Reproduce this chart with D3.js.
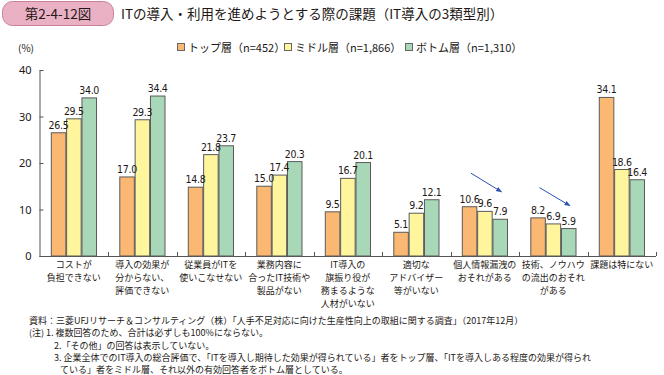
<!DOCTYPE html>
<html>
<head>
<meta charset="utf-8">
<script src="https://cdn.jsdelivr.net/npm/d3@7"></script>
<style>
  body { margin: 0; background: #fff; }
  text { font-family: "Noto Sans CJK JP", "Noto Sans", sans-serif; fill: #231815; }
  .num { font-family: "Liberation Sans Narrow", "DejaVu Sans Condensed", "Noto Sans", sans-serif; font-stretch: condensed; }
</style>
</head>
<body>
<script>
// data
var categories = ["cost", "effect", "staff", "fit", "leader", "advisor", "privacy", "knowhow", "none"];
var catLabels = [
  ["コストが", "負担できない"],
  ["導入の効果が", "分からない、", "評価できない"],
  ["従業員がITを", "使いこなせない"],
  ["業務内容に", "合ったIT技術や", "製品がない"],
  ["IT導入の", "旗振り役が", "務まるような", "人材がいない"],
  ["適切な", "アドバイザー", "等がいない"],
  ["個人情報漏洩の", "おそれがある"],
  ["技術、ノウハウ", "の流出のおそれ", "がある"],
  ["課題は特にない"]
];
var seriesNames = ["トップ層（n=452）", "ミドル層（n=1,866）", "ボトム層（n=1,310）"];
var topVals    = [26.5, 17.0, 14.8, 15.0, 9.5, 5.1, 10.6, 8.2, 34.1];
var middleVals = [29.5, 29.3, 21.8, 17.4, 16.7, 9.2, 9.6, 6.9, 18.6];
var bottomVals = [34.0, 34.4, 23.7, 20.3, 20.1, 12.1, 7.9, 5.9, 16.4];
var yTicks = [0, 10, 20, 30, 40];
var colors = ["#fbb872", "#fff59c", "#a9d8b8"];
// annotation arrows (category, from value, to value)
var arrowCats = ["privacy", "knowhow"];
var arrowFrom = [17.8, 14.7];
var arrowTo = [13.8, 10.8];
var footnotes = [
  "資料：三菱UFJリサーチ＆コンサルティング（株）「人手不足対応に向けた生産性向上の取組に関する調査」（2017年12月）",
  "(注) 1. 複数回答のため、合計は必ずしも100%にならない。",
  "2.「その他」の回答は表示していない。",
  "3. 企業全体でのIT導入の総合評価で、「ITを導入し期待した効果が得られている」者をトップ層、「ITを導入しある程度の効果が得られ",
  "ている」者をミドル層、それ以外の有効回答者をボトム層としている。"
];

var W = 664, H = 375;
var svg = d3.select("body").append("svg").attr("width", W).attr("height", H);

// title
svg.append("rect").attr("x", 2.5).attr("y", 1.5).attr("width", 111).attr("height", 24)
  .attr("rx", 10).attr("fill", "#eab1c5").attr("stroke", "#c9809b");
svg.append("text").attr("x", 58).attr("y", 18.5).attr("text-anchor", "middle")
  .style("font-size", "13.5px").text("第2-4-12図");
svg.append("text").attr("x", 121).attr("y", 18.5)
  .style("font-size", "13.5px").text("ITの導入・利用を進めようとする際の課題（IT導入の3類型別）");

// scales
var x0 = d3.scaleBand().domain(categories).range([39.5, 656]);
var x1 = d3.scaleBand().domain(d3.range(3)).range([11.3, 57.3]);
var y = d3.scaleLinear().domain([0, 40]).range([256, 70]);

// y axis
var yAxis = svg.append("g").attr("transform", "translate(39.5,0)")
  .call(d3.axisLeft(y).tickValues(yTicks).tickSize(-4).tickPadding(8).tickSizeOuter(0));
yAxis.select(".domain").attr("stroke", "#555");
yAxis.selectAll(".tick line").attr("stroke", "#555");
yAxis.selectAll("text").style("font-size", "11px").style("font-family", "'Noto Sans', sans-serif").attr("fill", "#333");
svg.append("text").attr("x", 18).attr("y", 52).style("font-size", "10px").text("(%)");

// x axis line with ticks at band boundaries
svg.append("line").attr("x1", 39.5).attr("x2", 656).attr("y1", 256.5).attr("y2", 256.5).attr("stroke", "#555");
svg.selectAll(".xtick").data(categories.slice(1).concat(["end"])).enter().append("line")
  .attr("x1", function(d, i) { return Math.round(x0.range()[0] + (i + 1) * x0.bandwidth()) + 0.5; })
  .attr("x2", function(d, i) { return Math.round(x0.range()[0] + (i + 1) * x0.bandwidth()) + 0.5; })
  .attr("y1", 256).attr("y2", 252).attr("stroke", "#555");

// bars
var rows = categories.map(function(c, i) {
  return {cat: c, vals: [topVals[i], middleVals[i], bottomVals[i]]};
});
var groups = svg.selectAll(".grp").data(rows).enter().append("g")
  .attr("transform", function(d) { return "translate(" + x0(d.cat) + ",0)"; });
groups.selectAll("rect").data(function(d) { return d.vals; }).enter().append("rect")
  .attr("x", function(d, i) { return x1(i) + 0.5; })
  .attr("y", function(d) { return y(d); })
  .attr("width", x1.bandwidth() - 0.8)
  .attr("height", function(d) { return y(0) - y(d); })
  .attr("fill", function(d, i) { return colors[i]; })
  .attr("stroke", "#5a5a5a").attr("stroke-width", 1);
groups.selectAll(".num").data(function(d) { return d.vals; }).enter().append("text")
  .attr("class", "num")
  .attr("x", function(d, i) { return x1(i) + x1.bandwidth() / 2; })
  .attr("y", function(d) { return y(d) - 4; })
  .attr("text-anchor", "middle")
  .style("font-size", "10.5px").style("letter-spacing", "-0.3px")
  .text(function(d) { return d.toFixed(1); });

// category labels, one text per line
catLabels.forEach(function(lines, i) {
  svg.selectAll(".cat" + i).data(lines).enter().append("text")
    .attr("x", x0(categories[i]) + x0.bandwidth() / 2)
    .attr("y", function(d, j) { return 268 + j * 13; })
    .attr("text-anchor", "middle")
    .style("font-size", "9px")
    .text(function(d) { return d; });
});

// arrows
var defs = svg.append("defs");
defs.append("marker").attr("id", "ah").attr("viewBox", "0 0 10 10")
  .attr("refX", 9).attr("refY", 5).attr("markerWidth", 6).attr("markerHeight", 6)
  .attr("orient", "auto").append("path").attr("d", "M0,1 L10,5 L0,9 Z").attr("fill", "#2b4fb5");
svg.selectAll(".arr").data(arrowCats).enter().append("line")
  .attr("x1", function(d) { return x0(d) + 20.5; })
  .attr("y1", function(d, i) { return y(arrowFrom[i]); })
  .attr("x2", function(d) { return x0(d) + 51; })
  .attr("y2", function(d, i) { return y(arrowTo[i]); })
  .attr("stroke", "#2b4fb5").attr("stroke-width", 1).attr("marker-end", "url(#ah)");

// legend
var legX = [177, 284, 405];
var leg = svg.selectAll(".leg").data(seriesNames).enter().append("g")
  .attr("transform", function(d, i) { return "translate(" + legX[i] + ",43)"; });
leg.append("rect").attr("x", 0.5).attr("y", 0.5).attr("width", 7).attr("height", 7)
  .attr("fill", function(d, i) { return colors[i]; }).attr("stroke", "#666");
leg.append("text").attr("x", 11).attr("y", 8.5).style("font-size", "11px")
  .text(function(d) { return d; });

// footnotes
var fnX = [29, 29, 54, 54, 60];
svg.selectAll(".fn").data(footnotes).enter().append("text")
  .attr("x", function(d, i) { return fnX[i]; })
  .attr("y", function(d, i) { return 324 + i * 12.3; })
  .style("font-size", "9px")
  .text(function(d) { return d; });
</script>
</body>
</html>
